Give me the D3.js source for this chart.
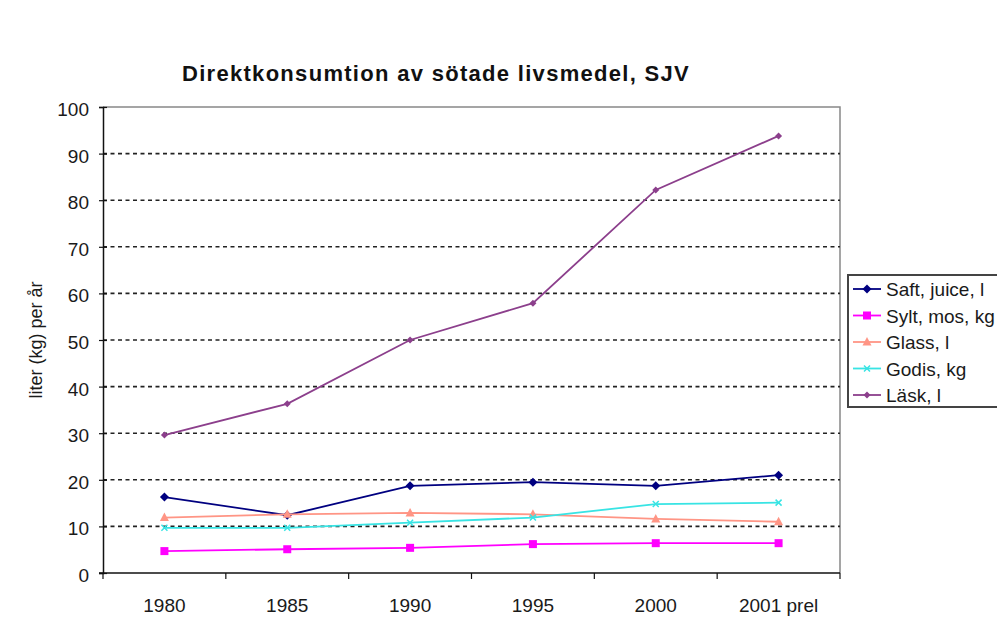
<!DOCTYPE html>
<html>
<head>
<meta charset="utf-8">
<script src="https://cdn.jsdelivr.net/npm/d3@7/dist/d3.min.js"></script>
<style>
  html, body { margin: 0; padding: 0; background: #fff; }
  svg { display: block; font-family: Arial, "Liberation Sans", sans-serif; }
</style>
</head>
<body>
<svg id="chart" width="997" height="624"></svg>
<script>
// Categories and series (liter / kg per person and year)
const years = ["1980", "1985", "1990", "1995", "2000", "2001 prel"];
const saft  = [16.3, 12.4, 18.7, 19.5, 18.7, 21.0];
const sylt  = [4.7, 5.1, 5.4, 6.2, 6.4, 6.4];
const glass = [11.9, 12.6, 12.9, 12.6, 11.6, 11.0];
const godis = [9.7, 9.7, 10.8, 11.9, 14.8, 15.1];
const lask  = [29.6, 36.3, 50.0, 57.9, 82.2, 93.8];
const seriesNames = ["Saft, juice, l", "Sylt, mos, kg", "Glass, l", "Godis, kg", "Läsk, l"];
const yTicks = [0, 10, 20, 30, 40, 50, 60, 70, 80, 90, 100];

const series = [
  { name: seriesNames[0], values: saft,  color: "#000080", marker: "diamond" },
  { name: seriesNames[1], values: sylt,  color: "#ff00ff", marker: "square" },
  { name: seriesNames[2], values: glass, color: "#ff9585", marker: "triangle" },
  { name: seriesNames[3], values: godis, color: "#38e4e4", marker: "cross" },
  { name: seriesNames[4], values: lask,  color: "#8c3f8c", marker: "star" }
];

const FONT = "Arial, 'Liberation Sans', sans-serif";
const svg = d3.select("#chart");
const plot = { left: 103, right: 840, top: 107, bottom: 573 };

const x = d3.scaleBand().domain(years).range([plot.left, plot.right]);
const y = d3.scaleLinear().domain([0, 100]).range([plot.bottom, plot.top]);

// Title
svg.append("text")
  .attr("x", 436).attr("y", 81)
  .attr("text-anchor", "middle")
  .attr("font-size", 22).attr("font-weight", "bold")
  .attr("letter-spacing", 1.3)
  .attr("fill", "#111")
  .text("Direktkonsumtion av sötade livsmedel, SJV");

// Plot frame (top and right edges in grey)
svg.append("path")
  .attr("d", `M${plot.left},${plot.top}H${plot.right}V${plot.bottom}`)
  .attr("fill", "none").attr("stroke", "#888").attr("stroke-width", 1.5);

// Dashed gridlines
svg.append("g")
  .selectAll("line")
  .data(yTicks.filter(d => d > 0 && d < 100))
  .join("line")
  .attr("x1", plot.left).attr("x2", plot.right)
  .attr("y1", d => y(d)).attr("y2", d => y(d))
  .attr("stroke", "#222").attr("stroke-width", 1.6)
  .attr("stroke-dasharray", "4,3.5");

// Y axis
const yAxis = svg.append("g")
  .attr("transform", `translate(${plot.left},0)`)
  .call(d3.axisLeft(y).tickValues(yTicks).tickSize(4).tickPadding(10));
yAxis.select(".domain").attr("stroke", "#111").attr("stroke-width", 1.5);
yAxis.selectAll(".tick line").attr("x1", 4).attr("x2", -4).attr("stroke", "#111").attr("stroke-width", 1.2);
yAxis.selectAll(".tick text")
  .attr("font-size", 19).attr("fill", "#1a1a1a").attr("font-family", FONT)
  .attr("dy", "0.45em");

// X axis: ticks at band boundaries, labels at band centres
const xAxisG = svg.append("g").attr("transform", `translate(0,${plot.bottom})`);
xAxisG.append("line")
  .attr("x1", plot.left - 4).attr("x2", plot.right)
  .attr("stroke", "#111").attr("stroke-width", 1.5);
const boundaries = years.map(d => x(d)).concat([x(years[years.length - 1]) + x.bandwidth()]);
xAxisG.selectAll("line.tk")
  .data(boundaries)
  .join("line").attr("class", "tk")
  .attr("x1", d => d).attr("x2", d => d)
  .attr("y1", 0).attr("y2", 6)
  .attr("stroke", "#111").attr("stroke-width", 1.2);
xAxisG.selectAll("text")
  .data(years)
  .join("text")
  .attr("x", d => x(d) + x.bandwidth() / 2)
  .attr("y", 39)
  .attr("text-anchor", "middle")
  .attr("font-size", 19).attr("fill", "#1a1a1a")
  .text(d => d);

// Y axis title
svg.append("text")
  .attr("transform", `translate(42,${(plot.top + plot.bottom) / 2}) rotate(-90)`)
  .attr("text-anchor", "middle")
  .attr("font-size", 18).attr("fill", "#1a1a1a")
  .text("liter (kg) per år");

// Marker drawing
function drawMarker(g, type, color) {
  switch (type) {
    case "diamond":
      g.append("path").attr("d", "M0,-4.5L4.5,0L0,4.5L-4.5,0Z").attr("fill", color);
      break;
    case "square":
      g.append("rect").attr("x", -4).attr("y", -4).attr("width", 8).attr("height", 8).attr("fill", color);
      break;
    case "triangle":
      g.append("path").attr("d", "M0,-5L4.5,3.5L-4.5,3.5Z").attr("fill", color);
      break;
    case "cross":
      g.append("path").attr("d", "M-3,-3L3,3M-3,3L3,-3").attr("stroke", color).attr("stroke-width", 1.5);
      break;
    case "star":
      g.append("path").attr("d", "M0,-3.5L3.5,0L0,3.5L-3.5,0Z").attr("fill", color);
      break;
  }
}

const line = d3.line()
  .x((d, i) => x(years[i]) + x.bandwidth() / 2)
  .y(d => y(d));

series.forEach(s => {
  const g = svg.append("g");
  g.append("path")
    .datum(s.values)
    .attr("d", line)
    .attr("fill", "none")
    .attr("stroke", s.color)
    .attr("stroke-width", 1.8);
  s.values.forEach((v, i) => {
    const m = g.append("g").attr("transform", `translate(${x(years[i]) + x.bandwidth() / 2},${y(v)})`);
    drawMarker(m, s.marker, s.color);
  });
});

// Legend
const legend = svg.append("g").attr("transform", "translate(848,275)");
legend.append("rect")
  .attr("x", 0).attr("y", 0).attr("width", 160).attr("height", 132)
  .attr("fill", "#fff").attr("stroke", "#444").attr("stroke-width", 2);
series.forEach((s, i) => {
  const row = legend.append("g").attr("transform", `translate(0,${14 + i * 26.5})`);
  row.append("line").attr("x1", 5).attr("x2", 33).attr("y1", 0).attr("y2", 0)
    .attr("stroke", s.color).attr("stroke-width", 1.8);
  drawMarker(row.append("g").attr("transform", "translate(19,0)"), s.marker, s.color);
  row.append("text").attr("x", 38).attr("y", 7)
    .attr("font-size", 19).attr("fill", "#1a1a1a")
    .text(s.name);
});
</script>
</body>
</html>
